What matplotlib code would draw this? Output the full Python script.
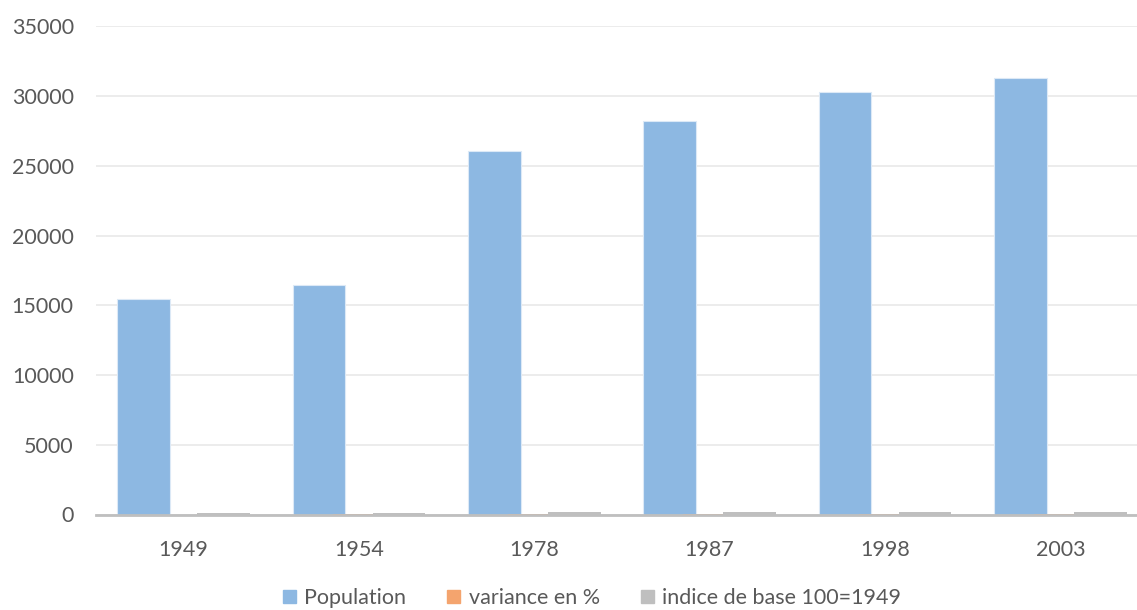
import matplotlib
matplotlib.use("Agg")
import matplotlib.pyplot as plt
from matplotlib.patches import Patch
import numpy as np

plt.rcParams['font.family'] = ['Lato', 'DejaVu Sans']

years = ["1949", "1954", "1978", "1987", "1998", "2003"]
population = [15430, 16450, 26060, 28190, 30290, 31270]
variance_pct = [0, 6.6, 58.4, 8.2, 7.5, 3.2]
indice_base100 = [100, 106.6, 168.9, 182.7, 196.3, 202.7]
series_names = ["Population", "variance en %", "indice de base 100=1949"]
y_ticks = [0, 5000, 10000, 15000, 20000, 25000, 30000, 35000]

colors = ["#8DB8E2", "#F4A46E", "#BFBFBF"]
text_color = "#595959"

W, H = 1137, 610
fig = plt.figure(figsize=(W / 100, H / 100), dpi=100)
ax = fig.add_axes([96 / W, 95.5 / H, (1148 - 96) / W, 488.2 / H])

x = np.arange(len(years))
width = 0.302
offsets = [-0.228, 0.0, 0.228]
for i, (vals, c, name) in enumerate(zip([population, variance_pct, indice_base100], colors, series_names)):
    if i == 0:
        ax.bar(x + offsets[i], vals, width=width, color=c, edgecolor="#DCE9F6",
               linewidth=0.8, zorder=2 + i, label=name)
    else:
        ax.bar(x + offsets[i], vals, width=width, color=c, linewidth=0,
               zorder=2 + i, label=name)

ax.set_xlim(-0.5, len(years) - 0.5)
ax.set_ylim(0, 35000)
ax.set_yticks(y_ticks)
ax.set_yticklabels([str(t) for t in y_ticks])
ax.set_xticks(x)
ax.set_xticklabels(years)
ax.grid(axis="y", color="#EBEBEB", linewidth=1.3, zorder=0)
ax.set_axisbelow(True)
for s in ["top", "right", "left"]:
    ax.spines[s].set_visible(False)
ax.spines["bottom"].set_color("#BFBFBF")
ax.spines["bottom"].set_linewidth(2.0)
ax.spines["bottom"].set_zorder(3.5)
ax.tick_params(axis="both", length=0, labelsize=15.5, colors=text_color)
ax.tick_params(axis="x", pad=18)
ax.tick_params(axis="y", pad=16)

handles = [Patch(facecolor=c, edgecolor=c) for c in colors]
fig.legend(handles, series_names, loc="center", bbox_to_anchor=(592 / W, 1 - 598 / H),
           ncol=3, frameon=False, fontsize=15.5, labelcolor=text_color,
           handlelength=0.6, handleheight=0.6, handletextpad=0.4, columnspacing=1.9)

fig.savefig("out.png", dpi=100)
